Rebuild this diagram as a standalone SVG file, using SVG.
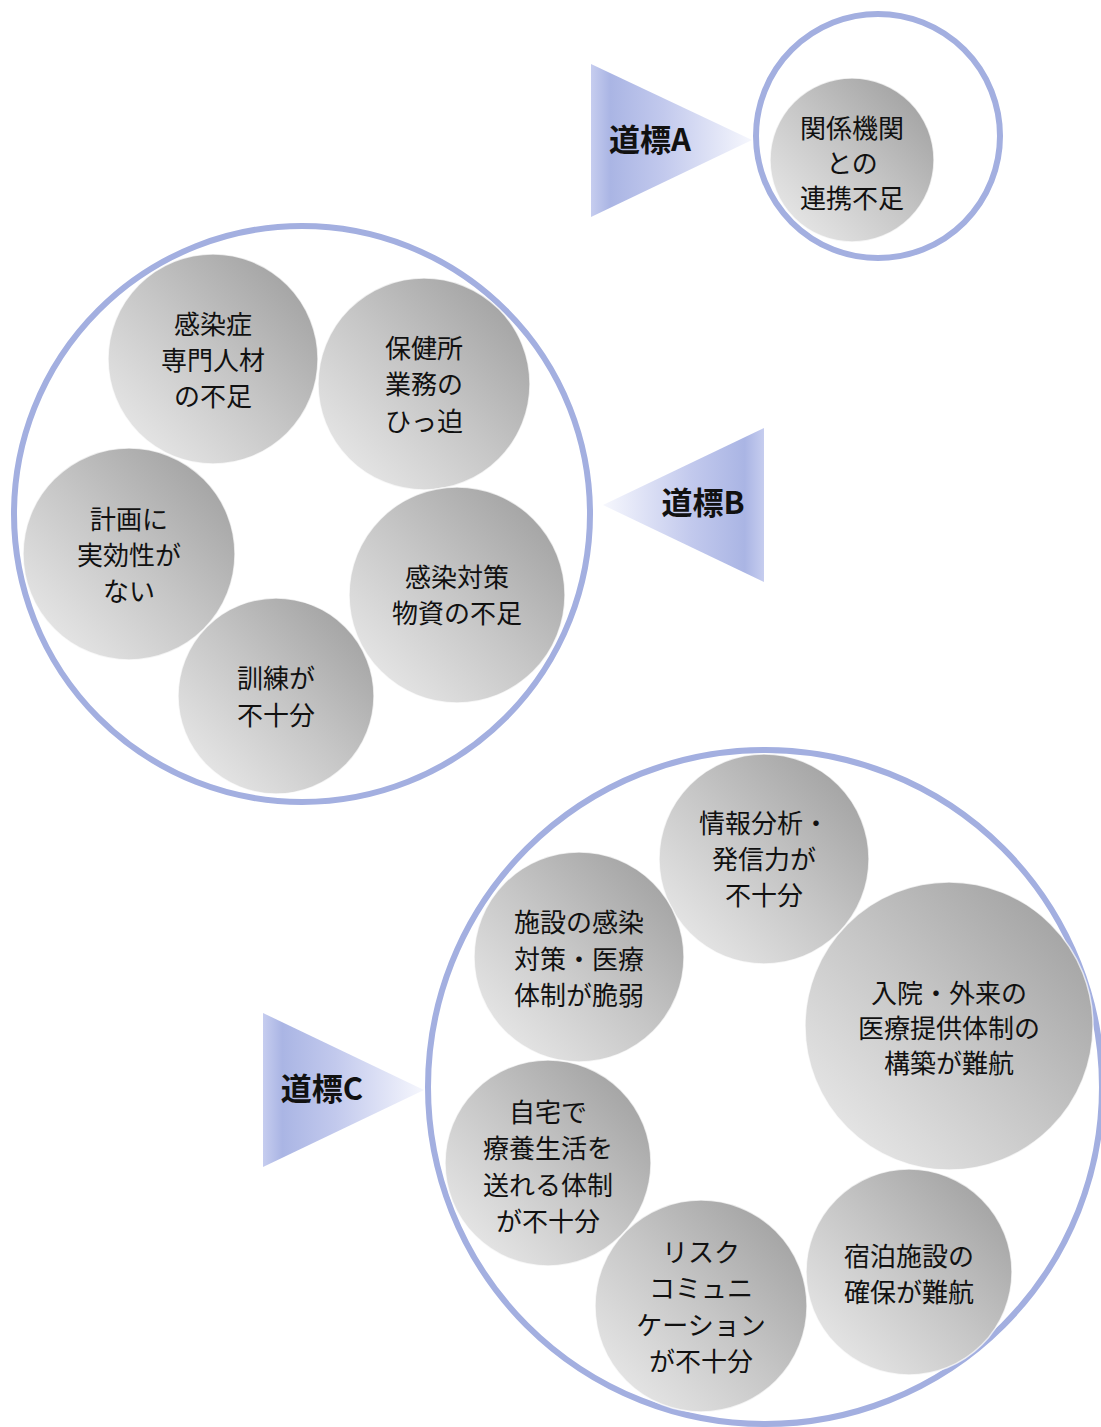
<svg xmlns="http://www.w3.org/2000/svg" width="1101" height="1427" viewBox="0 0 1101 1427">
<defs>
<linearGradient id="gray" x1="1" y1="0" x2="0" y2="1">
<stop offset="0" stop-color="#999999"/>
<stop offset="0.5" stop-color="#c6c6c6"/>
<stop offset="1" stop-color="#efefef"/>
</linearGradient>
<linearGradient id="triR" x1="0" y1="0" x2="1" y2="0">
<stop offset="0" stop-color="#c6cdef"/>
<stop offset="0.12" stop-color="#aab5e4"/>
<stop offset="0.45" stop-color="#c2c9ed"/>
<stop offset="1" stop-color="#f6f7fd"/>
</linearGradient>
<linearGradient id="triL" x1="1" y1="0" x2="0" y2="0">
<stop offset="0" stop-color="#c6cdef"/>
<stop offset="0.12" stop-color="#aab5e4"/>
<stop offset="0.45" stop-color="#c2c9ed"/>
<stop offset="1" stop-color="#f6f7fd"/>
</linearGradient>
<style>
.ring{fill:none;stroke:#a3afe0;stroke-width:6}
.ball{fill:url(#gray);stroke:#ffffff;stroke-width:1.5;stroke-opacity:0.7}
.t{font-family:"Noto Sans CJK JP","Noto Sans",sans-serif;font-size:26px;fill:#111111;text-anchor:middle}
.lab{font-family:"Noto Sans CJK JP","Noto Sans",sans-serif;font-size:31px;font-weight:bold;fill:#111111;text-anchor:middle}
</style>
</defs>
<g id="connectors"></g>

<g id="markerA">
<polygon points="591,64 752,140 591,217" fill="url(#triR)"/>
<text class="lab" x="650" y="151">道標A</text>
</g>
<g id="markerB">
<polygon points="764,428 603,505 764,582" fill="url(#triL)"/>
<text class="lab" x="703" y="514">道標B</text>
</g>
<g id="markerC">
<polygon points="263,1013 424,1090 263,1167" fill="url(#triR)"/>
<text class="lab" x="322" y="1100">道標C</text>
</g>

<g id="groupA">
<circle class="ring" cx="878" cy="136" r="122"/>
<g id="a1">
<circle class="ball" cx="852" cy="160" r="82"/>
<text class="t" x="852" y="138">関係機関</text>
<text class="t" x="852" y="173">との</text>
<text class="t" x="852" y="208">連携不足</text>
</g>
</g>

<g id="groupB">
<circle class="ring" cx="302" cy="514" r="288"/>
<g id="b1">
<circle class="ball" cx="213" cy="359" r="105"/>
<text class="t" x="213" y="334">感染症</text>
<text class="t" x="213" y="370">専門人材</text>
<text class="t" x="213" y="406">の不足</text>
</g>
<g id="b2">
<circle class="ball" cx="424" cy="384" r="106"/>
<text class="t" x="424" y="358">保健所</text>
<text class="t" x="424" y="394">業務の</text>
<text class="t" x="424" y="431">ひっ迫</text>
</g>
<g id="b3">
<circle class="ball" cx="129" cy="554" r="106"/>
<text class="t" x="129" y="529">計画に</text>
<text class="t" x="129" y="565">実効性が</text>
<text class="t" x="129" y="601">ない</text>
</g>
<g id="b4">
<circle class="ball" cx="457" cy="595" r="108"/>
<text class="t" x="457" y="587">感染対策</text>
<text class="t" x="457" y="623">物資の不足</text>
</g>
<g id="b5">
<circle class="ball" cx="276" cy="696" r="98"/>
<text class="t" x="276" y="688">訓練が</text>
<text class="t" x="276" y="725">不十分</text>
</g>
</g>

<g id="groupC">
<circle class="ring" cx="765" cy="1087" r="337"/>
<g id="c1">
<circle class="ball" cx="764" cy="859" r="105"/>
<text class="t" x="764" y="833">情報分析・</text>
<text class="t" x="764" y="869">発信力が</text>
<text class="t" x="764" y="905">不十分</text>
</g>
<g id="c2">
<circle class="ball" cx="579" cy="957" r="105"/>
<text class="t" x="579" y="932">施設の感染</text>
<text class="t" x="579" y="969">対策・医療</text>
<text class="t" x="579" y="1005">体制が脆弱</text>
</g>
<g id="c3">
<circle class="ball" cx="949" cy="1026" r="144"/>
<text class="t" x="949" y="1003">入院・外来の</text>
<text class="t" x="949" y="1038">医療提供体制の</text>
<text class="t" x="949" y="1073">構築が難航</text>
</g>
<g id="c4">
<circle class="ball" cx="548" cy="1163" r="103"/>
<text class="t" x="548" y="1122">自宅で</text>
<text class="t" x="548" y="1158">療養生活を</text>
<text class="t" x="548" y="1195">送れる体制</text>
<text class="t" x="548" y="1231">が不十分</text>
</g>
<g id="c5">
<circle class="ball" cx="909" cy="1272" r="103"/>
<text class="t" x="909" y="1266">宿泊施設の</text>
<text class="t" x="909" y="1302">確保が難航</text>
</g>
<g id="c6">
<circle class="ball" cx="701" cy="1306" r="106"/>
<text class="t" x="701" y="1262">リスク</text>
<text class="t" x="701" y="1298">コミュニ</text>
<text class="t" x="701" y="1335">ケーション</text>
<text class="t" x="701" y="1371">が不十分</text>
</g>
</g>
</svg>
